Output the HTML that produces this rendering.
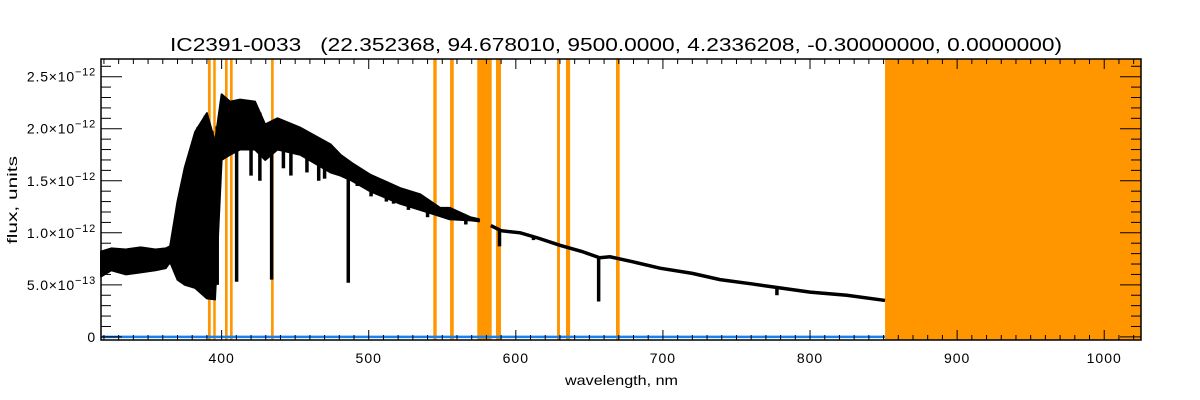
<!DOCTYPE html>
<html><head><meta charset="utf-8"><style>
html,body{margin:0;padding:0;background:#fff;}
svg{display:block;font-family:"Liberation Sans",sans-serif;}
</style></head><body>
<svg id="chart" width="1200" height="400" viewBox="0 0 1200 400" xmlns="http://www.w3.org/2000/svg">
<rect x="0" y="0" width="1200" height="400" fill="#fff"/>
<text x="170" y="51" textLength="892" lengthAdjust="spacingAndGlyphs" font-size="18" fill="#000" xml:space="preserve">IC2391-0033   (22.352368, 94.678010, 9500.0000, 4.2336208, -0.30000000, 0.0000000)</text>
<text x="565" y="385" textLength="113" lengthAdjust="spacingAndGlyphs" font-size="14" fill="#000">wavelength, nm</text>
<text transform="translate(17,244) rotate(-90)" textLength="88" lengthAdjust="spacingAndGlyphs" font-size="14" fill="#000">flux, units</text>
<g id="bands"></g>
<g id="series"></g>
<g id="axes"></g>
</svg>
<script>
const xTicks = [400, 500, 600, 700, 800, 900, 1000];
const yTicks = [0, 0.5, 1.0, 1.5, 2.0, 2.5];
const yTickLabels = ["0", "5.0", "1.0", "1.5", "2.0", "2.5"];
const yTickExps = ["", "-13", "-12", "-12", "-12", "-12"];
const maskStart = [390.7, 394.3, 402.3, 405.7, 433.6, 543.9, 555.3, 573.8, 586.5, 628.0, 634.1, 668.1, 851.0];
const maskEnd   = [392.6, 396.0, 404.1, 407.5, 435.4, 546.2, 557.8, 583.6, 589.9, 630.0, 636.9, 670.6, 1025];
const wl      = [318, 325, 335, 345, 355, 362, 365, 370, 375, 382, 390, 395.5, 400, 405.7, 412.5, 422.7, 429.6, 438, 453.5, 474, 480.8, 488.6, 500.8, 521.3, 535, 548.5, 555, 569, 575];
const fluxTop = [0.82, 0.85, 0.84, 0.86, 0.84, 0.85, 0.87, 1.30, 1.63, 1.97, 2.15, 1.87, 2.33, 2.26, 2.28, 2.26, 2.04, 2.10, 2.01, 1.85, 1.75, 1.67, 1.56, 1.43, 1.37, 1.24, 1.24, 1.15, 1.13];
const fluxBot = [0.58, 0.64, 0.60, 0.62, 0.64, 0.66, 0.72, 0.55, 0.50, 0.47, 0.37, 0.36, 1.70, 1.75, 1.80, 1.80, 1.70, 1.80, 1.75, 1.58, 1.55, 1.50, 1.40, 1.28, 1.22, 1.16, 1.13, 1.12, 1.11];
const wl2     = [583, 590, 603, 615, 630, 645, 657, 664, 680, 698, 720, 738.8, 760, 780, 800, 825, 851];
const flux2   = [1.07, 1.02, 1.00, 0.95, 0.88, 0.82, 0.76, 0.77, 0.72, 0.66, 0.61, 0.55, 0.51, 0.47, 0.43, 0.40, 0.35];
const lineWl  = [393.4, 397.0, 410.2, 434.0, 486.1, 588.9, 656.3, 777.5, 447.1, 492.2, 501.6, 516.9, 527.0, 384.0, 388.9, 420.0, 426.0, 442.0, 458.0, 466.0, 470.0, 512.0, 540.0, 566.0, 612.0];
const lineMin = [0.40, 0.50, 0.53, 0.55, 0.52, 0.87, 0.34, 0.40, 1.55, 1.45, 1.35, 1.28, 1.22, 0.50, 0.45, 1.55, 1.50, 1.62, 1.58, 1.50, 1.52, 1.30, 1.15, 1.08, 0.93];
const X0 = 101, X1 = 1141, Y0 = 340, Y1 = 59;
const xMin = 318, xMax = 1025, yMin = -0.03, yMax = 2.67;
function sx(v){ return X0 + (v - xMin) / (xMax - xMin) * (X1 - X0); }
function sy(v){ return Y0 - (v - yMin) / (yMax - yMin) * (Y0 - Y1); }
const NS = "http://www.w3.org/2000/svg";
function mk(tag, parent, attrs){ const e = document.createElementNS(NS, tag); for (const k in attrs) e.setAttribute(k, attrs[k]); parent.appendChild(e); return e; }
const bands = document.getElementById('bands');
for (let i = 0; i < maskStart.length; i++) {
  const r = mk('rect', bands, {x: sx(maskStart[i]), y: Y1, width: sx(maskEnd[i]) - sx(maskStart[i]), height: Y0 - Y1, fill: '#ff9600'});
  
  
}
const series = document.getElementById('series');
let pts = [];
for (let i = 0; i < wl.length; i++) pts.push(sx(wl[i]) + ',' + sy(fluxTop[i]));
for (let i = wl.length - 1; i >= 0; i--) pts.push(sx(wl[i]) + ',' + sy(fluxBot[i]));
const poly = mk('polygon', series, {points: pts.join(' '), fill: '#000', stroke: '#000', 'stroke-width': 2, 'stroke-linejoin': 'round'});


const pl = mk('polyline', series, {points: wl2.map((w, i) => sx(w) + ',' + sy(flux2[i])).join(' '), fill: 'none', stroke: '#000', 'stroke-width': 3.5});


function topAt(w){
  const a = w < 580 ? wl : wl2, b = w < 580 ? fluxTop : flux2;
  for (let i = 0; i < a.length - 1; i++) if (w >= a[i] && w <= a[i+1]) return b[i] + (b[i+1] - b[i]) * (w - a[i]) / (a[i+1] - a[i]);
  return b[b.length - 1];
}
for (let i = 0; i < lineWl.length; i++) {
  const l = mk('line', series, {x1: sx(lineWl[i]), x2: sx(lineWl[i]), y1: sy(topAt(lineWl[i])), y2: sy(lineMin[i]), stroke: '#000', 'stroke-width': 3.5});
  
  
}
const zl = mk('line', series, {x1: sx(318), x2: sx(851), y1: sy(0), y2: sy(0), stroke: '#1a80f0', 'stroke-width': 2.5});


const axes = document.getElementById('axes');
const frame = mk('rect', axes, {x: X0, y: Y1, width: X1 - X0, height: Y0 - Y1, fill: 'none', stroke: '#000', 'stroke-width': 1.5});


for (let v = 320; v <= 1025; v += 10) {
  const major = v % 100 === 0, len = major ? 10 : 5;
  mk('line', axes, {x1: sx(v), x2: sx(v), y1: Y0, y2: Y0 - len, stroke: '#000', 'stroke-width': 1});
  mk('line', axes, {x1: sx(v), x2: sx(v), y1: Y1, y2: Y1 + len, stroke: '#000', 'stroke-width': 1});
}
for (let i = 0; i < xTicks.length; i++) {
  const t = mk('text', axes, {x: sx(xTicks[i]), y: 363, 'text-anchor': 'middle', 'font-size': 14, 'letter-spacing': 1, fill: '#000'});
  t.textContent = xTicks[i];
  
  
}
for (let k = 0; k <= 26; k++) {
  const v = k / 10, major = k % 5 === 0, len = major ? 21 : 10;
  mk('line', axes, {x1: X0, x2: X0 + len, y1: sy(v), y2: sy(v), stroke: '#000', 'stroke-width': 1});
  mk('line', axes, {x1: X1, x2: X1 - len, y1: sy(v), y2: sy(v), stroke: '#000', 'stroke-width': 1});
}
for (let i = 0; i < yTicks.length; i++) {
  const t = mk('text', axes, {x: 96, y: sy(yTicks[i]) + 5, 'text-anchor': 'end', 'font-size': 14, 'letter-spacing': 0.8, fill: '#000'});
  
  
  if (yTickExps[i]) {
    t.appendChild(document.createTextNode(yTickLabels[i] + '\u00d710'));
    const s = document.createElementNS(NS, 'tspan');
    s.setAttribute('dy', -6); s.setAttribute('font-size', 11);
    s.textContent = yTickExps[i].replace('-', '\u2212');
    t.appendChild(s);
  } else t.textContent = yTickLabels[i];
}
</script>
</body></html>
